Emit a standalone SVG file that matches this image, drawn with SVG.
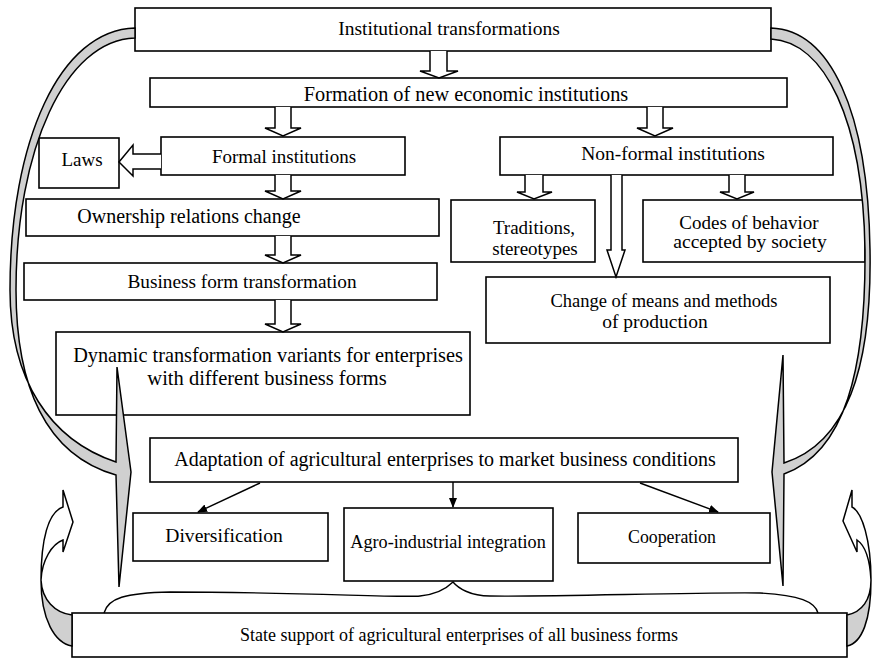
<svg xmlns="http://www.w3.org/2000/svg" width="873" height="660" viewBox="0 0 873 660">
<style>
.box{fill:#fff;stroke:#000;stroke-width:1.6}
.t{font-family:"Liberation Serif","Times New Roman",serif;font-size:19px;fill:#000;text-anchor:middle}
.ha{fill:#fff;stroke:#000;stroke-width:1.5}
.g{fill:#d0d0d0;stroke:#000;stroke-width:1.5;stroke-linejoin:miter}
.w{fill:#fff;stroke:#000;stroke-width:1.5}
.ln{fill:none;stroke:#000;stroke-width:1.4}
</style>
<defs>
<marker id="ah" markerWidth="10" markerHeight="10" refX="9" refY="5" orient="auto" markerUnits="userSpaceOnUse">
<path d="M0,1 L10,5 L0,9 Z" fill="#000"/>
</marker>
</defs>
<g id="n1"><rect class="box" x="135" y="8" width="636" height="43"/><text class="t" x="449" y="35" style="font-size:19.5px">Institutional transformations</text></g>
<g id="n2"><rect class="box" x="150" y="78" width="637" height="29"/><text class="t" x="466" y="101" style="font-size:20.3px">Formation of new economic institutions</text></g>
<g id="n3"><rect class="box" x="39" y="138" width="80" height="50"/><text class="t" x="82" y="166">Laws</text></g>
<g id="n4"><rect class="box" x="161" y="137" width="244" height="38"/><text class="t" x="284" y="163">Formal institutions</text></g>
<g id="n5"><rect class="box" x="500" y="137" width="333" height="38"/><text class="t" x="673" y="160" style="font-size:19.5px">Non-formal institutions</text></g>
<g id="n6"><rect class="box" x="26" y="199" width="413" height="37"/><text class="t" x="189" y="223" style="font-size:20px">Ownership relations change</text></g>
<g id="n7"><rect class="box" x="451" y="200" width="144" height="62"/><text class="t" x="534" y="234">Traditions,</text><text class="t" x="535" y="255">stereotypes</text></g>
<g id="n8"><rect class="box" x="643" y="200" width="222" height="62"/><text class="t" x="749" y="229">Codes of behavior</text><text class="t" x="750" y="248" style="font-size:19.6px">accepted by society</text></g>
<g id="n9"><rect class="box" x="24" y="263" width="413" height="37"/><text class="t" x="242" y="288" style="font-size:19.3px">Business form transformation</text></g>
<g id="n10"><rect class="box" x="486" y="277" width="344" height="66"/><text class="t" x="664" y="307" style="font-size:18.5px">Change of means and methods</text><text class="t" x="655" y="328" style="font-size:19.5px">of production</text></g>
<g id="n11"><rect class="box" x="56" y="332" width="414" height="83"/><text class="t" x="268" y="362" style="font-size:20.3px">Dynamic transformation variants for enterprises</text><text class="t" x="267" y="385" style="font-size:20.5px">with different business forms</text></g>
<g id="n12"><rect class="box" x="150" y="438" width="588" height="44"/><text class="t" x="445" y="466" style="font-size:20px">Adaptation of agricultural enterprises to market business conditions</text></g>
<g id="n13"><rect class="box" x="133" y="513" width="195" height="48"/><text class="t" x="224" y="542" style="font-size:19.6px">Diversification</text></g>
<g id="n14"><rect class="box" x="344" y="508" width="209" height="73"/><text class="t" x="448" y="548" style="font-size:18.2px">Agro-industrial integration</text></g>
<g id="n15"><rect class="box" x="578" y="513" width="192" height="50"/><text class="t" x="672" y="543" style="font-size:17.8px">Cooperation</text></g>
<g id="n16"><rect class="box" x="72" y="613" width="775" height="44"/><text class="t" x="459" y="641" style="font-size:18px">State support of agricultural enterprises of all business forms</text></g>
<g id="connectors">
<path class="ha" d="M430,51 V71 H420 L439,78 L458,71 H447 V51"/>
<path class="ha" d="M275,107 V128 H265 L283,136 L301,128 H291 V107"/>
<path class="ha" d="M647,107 V128 H637 L655,136 L673,128 H663 V107"/>
<path class="ha" d="M161,154 H133 V145 L119,162 L133,176 V169 H161"/>
<path class="ha" d="M275,175 V191 H265 L283,199 L301,191 H291 V175"/>
<path class="ha" d="M275,236 V255 H265 L283,263 L301,255 H291 V236"/>
<path class="ha" d="M275,300 V324 H265 L283,332 L301,324 H291 V300"/>
<path class="ha" d="M525,175 V192 H517 L534,199 L552,192 H543 V175"/>
<path class="ha" d="M729,175 V192 H720 L737,199 L754,192 H745 V175"/>
<path class="ha" d="M611,175 V250 H607 L616,277 L625,250 H622 V175"/>
<line class="ln" x1="260" y1="483" x2="198" y2="512" marker-end="url(#ah)"/>
<line class="ln" x1="453" y1="482" x2="453" y2="507" marker-end="url(#ah)"/>
<line class="ln" x1="640" y1="483" x2="718" y2="512" marker-end="url(#ah)"/>
<path class="g" d="M135,28 C60,30 10,140 10,290 C10,380 50,440 116,462 L117,367 L131,472 L119,587 L116,475 C45,455 16,385 16,290 C16,150 65,40 135,38 Z"/>
<path class="g" d="M771,28 C830,30 868,110 870,250 C872,370 846,443 784,463 L783,355 L772,472 L783,586 L784,474 C845,452 866,370 865,250 C863,120 825,42 771,39 Z"/>
<path class="w" d="M63,490 L63,507 C48,512 41,540 41,580 C42,560 52,544 63,540 L63,552 L73,522 Z"/>
<path class="g" d="M41,580 C41,620 55,643 72,646 L72,615 C55,613 42,600 41,580 Z"/>
<path class="w" d="M852,490 L852,507 C862,512 871,540 871,580 C870,562 866,546 857,540 L857,552 L843,521 Z"/>
<path class="g" d="M871,580 C871,620 862,643 847,646 L847,615 C862,612 871,600 871,580 Z"/>
<path class="ln" d="M104,613 C108,598 125,593 170,592 C300,592 400,598 420,596 C440,594 450,585 453,582 C458,588 470,596 490,596 C550,597 700,592 760,593 C800,595 815,602 818,613"/>
</g>
</svg>
